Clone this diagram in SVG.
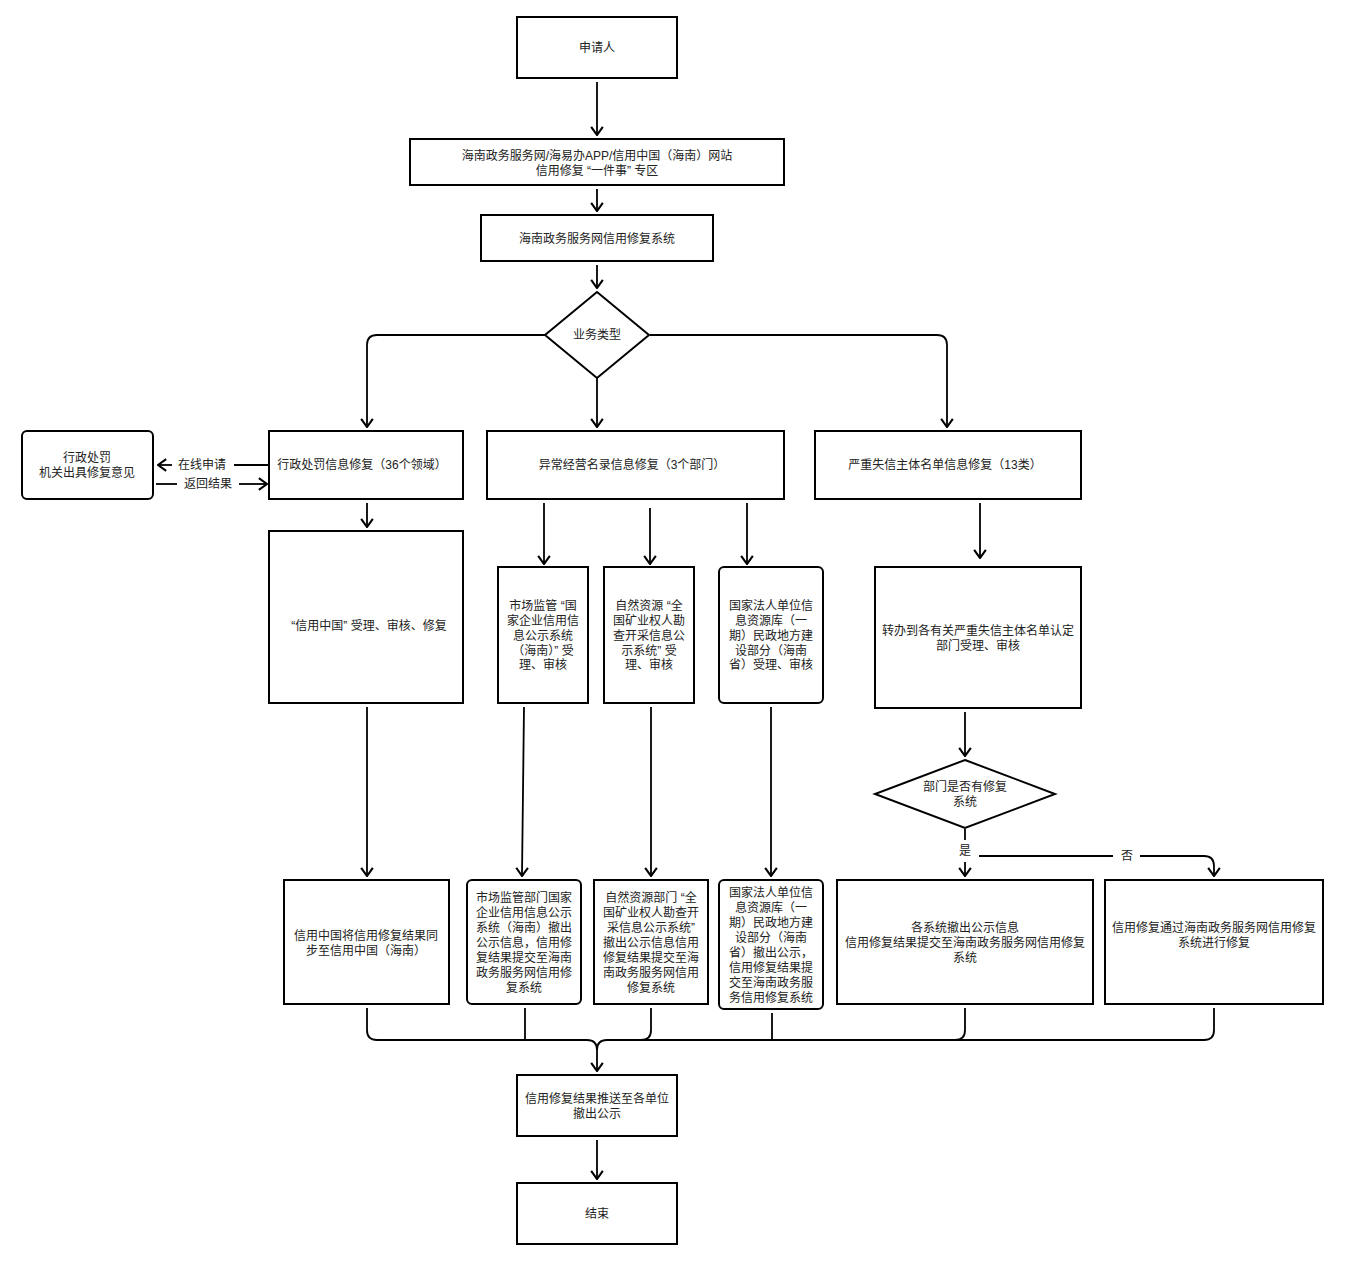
<svg xmlns="http://www.w3.org/2000/svg" width="1346" height="1263" viewBox="0 0 1346 1263">
<defs>
<style>
.box{fill:#fff;stroke:#000;stroke-width:2}
.ln{fill:none;stroke:#000;stroke-width:1.8}
.t{font-family:"Liberation Sans","Noto Sans CJK SC",sans-serif;font-size:12px;fill:#222;text-anchor:middle}
</style>
<marker id="ah" markerUnits="userSpaceOnUse" markerWidth="14" markerHeight="14" viewBox="0 0 12 12" refX="11" refY="6" orient="auto">
<path d="M4,1 L11,6 L4,11" fill="none" stroke="#000" stroke-width="1.8"/>
</marker>
</defs>
<rect width="1346" height="1263" fill="#fff"/>
<g id="connectors">
<path class="ln" d="M597,82 V135" marker-end="url(#ah)"/>
<path class="ln" d="M597,189 V211" marker-end="url(#ah)"/>
<path class="ln" d="M597,265 V288" marker-end="url(#ah)"/>
<path class="ln" d="M545,335 H377 Q367,335 367,345 V427" marker-end="url(#ah)"/>
<path class="ln" d="M597,378 V427" marker-end="url(#ah)"/>
<path class="ln" d="M650,335 H937 Q947,335 947,345 V427" marker-end="url(#ah)"/>
<path class="ln" d="M268,465 H234"/>
<path class="ln" d="M172,465 H158" marker-end="url(#ah)"/>
<path class="ln" d="M156,484 H177"/>
<path class="ln" d="M239,484 H267" marker-end="url(#ah)"/>
<path class="ln" d="M367,503 V527" marker-end="url(#ah)"/>
<path class="ln" d="M544,503 V564" marker-end="url(#ah)"/>
<path class="ln" d="M650,508 V564" marker-end="url(#ah)"/>
<path class="ln" d="M747,503 V564" marker-end="url(#ah)"/>
<path class="ln" d="M980,503 V558" marker-end="url(#ah)"/>
<path class="ln" d="M367,707 V876" marker-end="url(#ah)"/>
<path class="ln" d="M524,707 L522,876" marker-end="url(#ah)"/>
<path class="ln" d="M651,707 V876" marker-end="url(#ah)"/>
<path class="ln" d="M771,707 V876" marker-end="url(#ah)"/>
<path class="ln" d="M965,712 V756" marker-end="url(#ah)"/>
<path class="ln" d="M965,829 V840"/>
<path class="ln" d="M965,862 V876" marker-end="url(#ah)"/>
<path class="ln" d="M979,856 H1113"/>
<path class="ln" d="M1140,856 H1204 Q1214,856 1214,866 V876" marker-end="url(#ah)"/>
<path class="ln" d="M367,1008 V1030 Q367,1040 377,1040 H587 Q597,1040 597,1050"/>
<path class="ln" d="M1214,1008 V1030 Q1214,1040 1204,1040 H607 Q597,1040 597,1050"/>
<path class="ln" d="M525,1008 V1040"/>
<path class="ln" d="M651,1008 V1030 Q651,1040 641,1040"/>
<path class="ln" d="M772,1013 V1040"/>
<path class="ln" d="M965,1008 V1030 Q965,1040 955,1040"/>
<path class="ln" d="M597,1050 V1071" marker-end="url(#ah)"/>
<path class="ln" d="M597,1140 V1179" marker-end="url(#ah)"/>
<text class="t" x="202" y="469">在线申请</text>
<text class="t" x="208" y="488">返回结果</text>
<text class="t" x="965" y="855">是</text>
<text class="t" x="1127" y="860">否</text>
</g>
<g id="n1"><rect class="box" x="517" y="17" width="160" height="61"/><text class="t" x="597" y="52">申请人</text></g>
<g id="n2"><rect class="box" x="410" y="139" width="374" height="46"/><text class="t" x="597" y="160">海南政务服务网/海易办APP/信用中国（海南）网站</text><text class="t" x="597" y="175">信用修复 “一件事” 专区</text></g>
<g id="n3"><rect class="box" x="481" y="215" width="232" height="46"/><text class="t" x="597" y="243">海南政务服务网信用修复系统</text></g>
<g id="n4"><polygon class="box" points="597,292 649,335 597,378 545,335"/><text class="t" x="597" y="339">业务类型</text></g>
<g id="n5"><rect class="box" x="22" y="431" width="131" height="68" rx="5"/><text class="t" x="87" y="462">行政处罚</text><text class="t" x="87" y="477">机关出具修复意见</text></g>
<g id="n6"><rect class="box" x="269" y="431" width="194" height="68"/><text class="t" x="362" y="469">行政处罚信息修复（36个领域）</text></g>
<g id="n7"><rect class="box" x="487" y="431" width="297" height="68"/><text class="t" x="632" y="469">异常经营名录信息修复（3个部门）</text></g>
<g id="n8"><rect class="box" x="815" y="431" width="266" height="68"/><text class="t" x="945" y="469">严重失信主体名单信息修复（13类）</text></g>
<g id="n9"><rect class="box" x="269" y="531" width="194" height="172"/><text class="t" x="369" y="630">“信用中国” 受理、审核、修复</text></g>
<g id="n10"><rect class="box" x="498" y="567" width="90" height="136"/><text class="t" x="543" y="610">市场监管 “国</text><text class="t" x="543" y="625">家企业信用信</text><text class="t" x="543" y="640">息公示系统</text><text class="t" x="543" y="655">（海南）” 受</text><text class="t" x="543" y="669">理、审核</text></g>
<g id="n11"><rect class="box" x="604" y="567" width="90" height="136"/><text class="t" x="649" y="610">自然资源 “全</text><text class="t" x="649" y="625">国矿业权人勘</text><text class="t" x="649" y="640">查开采信息公</text><text class="t" x="649" y="655">示系统” 受</text><text class="t" x="649" y="669">理、审核</text></g>
<g id="n12"><rect class="box" x="719" y="567" width="104" height="136" rx="5"/><text class="t" x="771" y="610">国家法人单位信</text><text class="t" x="771" y="625">息资源库（一</text><text class="t" x="771" y="640">期）民政地方建</text><text class="t" x="771" y="655">设部分（海南</text><text class="t" x="771" y="669">省）受理、审核</text></g>
<g id="n13"><rect class="box" x="875" y="567" width="206" height="141"/><text class="t" x="978" y="635">转办到各有关严重失信主体名单认定</text><text class="t" x="978" y="650">部门受理、审核</text></g>
<g id="n14"><polygon class="box" points="965,760 1055,794 965,828 875,794"/><text class="t" x="965" y="791">部门是否有修复</text><text class="t" x="965" y="806">系统</text></g>
<g id="n15"><rect class="box" x="284" y="880" width="165" height="124"/><text class="t" x="366" y="940">信用中国将信用修复结果同</text><text class="t" x="366" y="955">步至信用中国（海南）</text></g>
<g id="n16"><rect class="box" x="467" y="880" width="114" height="124" rx="5"/><text class="t" x="524" y="902">市场监管部门国家</text><text class="t" x="524" y="917">企业信用信息公示</text><text class="t" x="524" y="932">系统（海南）撤出</text><text class="t" x="524" y="947">公示信息，信用修</text><text class="t" x="524" y="962">复结果提交至海南</text><text class="t" x="524" y="977">政务服务网信用修</text><text class="t" x="524" y="992">复系统</text></g>
<g id="n17"><rect class="box" x="594" y="880" width="114" height="124"/><text class="t" x="651" y="902">自然资源部门 “全</text><text class="t" x="651" y="917">国矿业权人勘查开</text><text class="t" x="651" y="932">采信息公示系统”</text><text class="t" x="651" y="947">撤出公示信息信用</text><text class="t" x="651" y="962">修复结果提交至海</text><text class="t" x="651" y="977">南政务服务网信用</text><text class="t" x="651" y="992">修复系统</text></g>
<g id="n18"><rect class="box" x="719" y="880" width="104" height="129" rx="5"/><text class="t" x="771" y="897">国家法人单位信</text><text class="t" x="771" y="912">息资源库（一</text><text class="t" x="771" y="927">期）民政地方建</text><text class="t" x="771" y="942">设部分（海南</text><text class="t" x="771" y="957">省）撤出公示，</text><text class="t" x="771" y="972">信用修复结果提</text><text class="t" x="771" y="987">交至海南政务服</text><text class="t" x="771" y="1002">务信用修复系统</text></g>
<g id="n19"><rect class="box" x="837" y="880" width="256" height="124"/><text class="t" x="965" y="932">各系统撤出公示信息</text><text class="t" x="965" y="947">信用修复结果提交至海南政务服务网信用修复</text><text class="t" x="965" y="962">系统</text></g>
<g id="n20"><rect class="box" x="1105" y="880" width="218" height="124"/><text class="t" x="1214" y="932">信用修复通过海南政务服务网信用修复</text><text class="t" x="1214" y="947">系统进行修复</text></g>
<g id="n21"><rect class="box" x="517" y="1075" width="160" height="61"/><text class="t" x="597" y="1103">信用修复结果推送至各单位</text><text class="t" x="597" y="1118">撤出公示</text></g>
<g id="n22"><rect class="box" x="517" y="1183" width="160" height="61"/><text class="t" x="597" y="1218">结束</text></g>
</svg>
